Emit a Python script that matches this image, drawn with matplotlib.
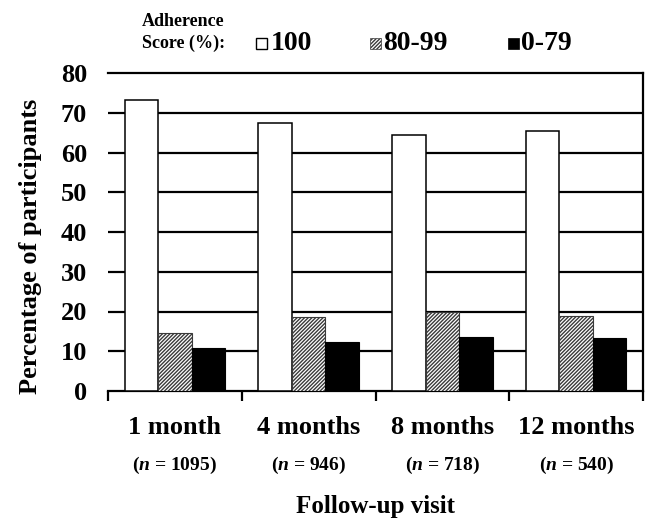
import matplotlib
matplotlib.use("Agg")
import matplotlib.pyplot as plt
import matplotlib.transforms as mtransforms
from matplotlib.patches import Rectangle
import numpy as np

# ---- data ----
visits = ["1 month", "4 months", "8 months", "12 months"]
n_labels = ["1095", "946", "718", "540"]
score_100 = [73.3, 67.5, 64.3, 65.5]
score_80_99 = [14.6, 18.6, 19.8, 18.9]
score_0_79 = [10.9, 12.4, 13.7, 13.4]
series_labels = ["100", "80-99", "0-79"]
y_ticks = [0, 10, 20, 30, 40, 50, 60, 70, 80]

plt.rcParams['font.family'] = ['Liberation Serif', 'DejaVu Serif']
plt.rcParams['font.weight'] = 'bold'
plt.rcParams['mathtext.fontset'] = 'custom'
plt.rcParams['mathtext.rm'] = 'Liberation Serif:bold'
plt.rcParams['mathtext.it'] = 'Liberation Serif:italic:bold'
plt.rcParams['hatch.linewidth'] = 1.0

W, H = 654, 519
fig = plt.figure(figsize=(W / 100, H / 100), dpi=100)
ax = fig.add_axes([108 / W, 1 - 391 / H, (643 - 108) / W, (391 - 73) / H])

x = np.arange(len(visits))
bw = 0.25
ax.bar(x - bw, score_100, bw, color='white', edgecolor='black', linewidth=1.1, zorder=3)
ax.bar(x, score_80_99, bw, color='white', edgecolor='#3a3a3a', hatch='/////////', linewidth=0.8, zorder=3)
ax.bar(x + bw, score_0_79, bw, color='black', edgecolor='black', linewidth=0.8, zorder=3)

ax.set_xlim(-0.5, 3.5)
ax.set_ylim(0, 80)
for v in y_ticks[1:-1]:
    ax.axhline(v, color='black', linewidth=1.6, zorder=1)

ax.spines['left'].set_visible(False)
for s in ['top', 'right', 'bottom']:
    ax.spines[s].set_linewidth(1.6)
    ax.spines[s].set_color('black')

ax.set_yticks(y_ticks)
ax.set_yticklabels([str(v) for v in y_ticks], fontsize=19, fontweight='bold')
ax.tick_params(axis='y', length=0, pad=15)

ax.set_xticks(np.arange(-0.5, 4.0, 1.0))
ax.set_xticklabels([])
ax.tick_params(axis='x', direction='out', length=7, width=1.6)

trans = mtransforms.blended_transform_factory(ax.transData, fig.transFigure)
for i, (v, n) in enumerate(zip(visits, n_labels)):
    ax.text(i, 1 - 427 / H, v, transform=trans, ha='center', va='center',
            fontsize=19, fontweight='bold')
    ax.text(i, 1 - 465 / H, r'($n$ = ' + n + ')', transform=trans, ha='center', va='center',
            fontsize=14, fontweight='bold')

fig.text((108 + 643) / 2 / W, 1 - 506 / H, "Follow-up visit", ha='center', va='center',
         fontsize=18, fontweight='bold')
fig.text(31 / W, 1 - 246 / H, "Percentage of participants", rotation=90,
         ha='center', va='center', fontsize=19, fontweight='bold')

# legend
fig.text(142 / W, 1 - 22 / H, "Adherence", ha='left', va='center', fontsize=13, fontweight='bold')
fig.text(142 / W, 1 - 43 / H, "Score (%):", ha='left', va='center', fontsize=13, fontweight='bold')
legend_items = [
    (256, 271, dict(facecolor='white', edgecolor='black', linewidth=1.0)),
    (370, 383, dict(facecolor='white', edgecolor='#3a3a3a', hatch='/////////', linewidth=0.5)),
    (508, 521, dict(facecolor='black', edgecolor='black', linewidth=0.5)),
]
for (sx, tx, style), lab in zip(legend_items, series_labels):
    fig.patches.append(Rectangle((sx / W, 1 - 49 / H), 11 / W, 11 / H,
                                 transform=fig.transFigure, figure=fig, **style))
    fig.text(tx / W, 1 - 43 / H, lab, ha='left', va='center', fontsize=20, fontweight='bold')

fig.savefig("out.png", dpi=100)
